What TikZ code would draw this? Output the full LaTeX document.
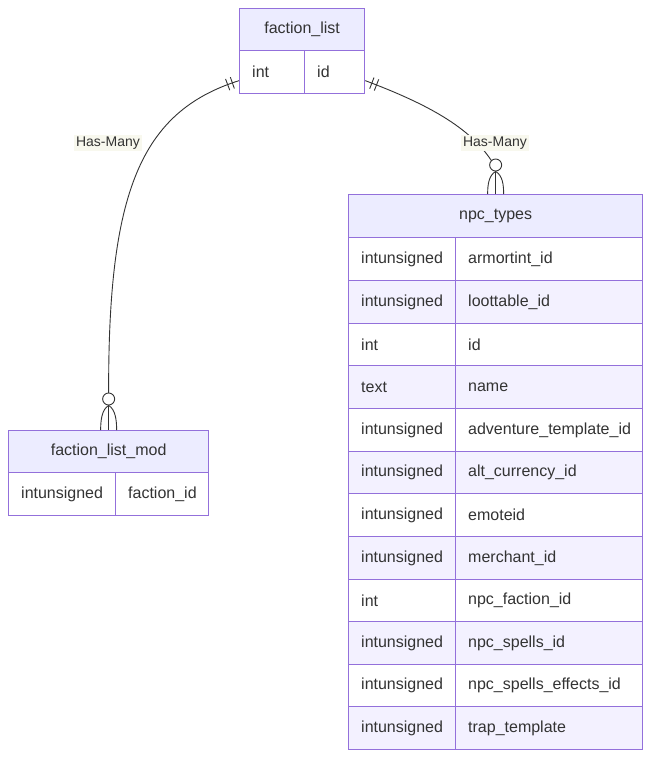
\documentclass[tikz,border=0pt]{standalone}
\usepackage{fontspec}
\setmainfont{Liberation Sans}
\usetikzlibrary{decorations.markings}
\definecolor{hdr}{RGB}{236,236,255}
\definecolor{oddrow}{RGB}{243,241,255}
\definecolor{bord}{RGB}{147,112,219}
\definecolor{txt}{RGB}{51,51,51}
\definecolor{lblbg}{RGB}{248,248,238}
\newcommand\erow[9]{%
  \node[cell, fill=#7, minimum width=#4pt, minimum height=#6pt] (#1t) at (#2,#3) {};
  \node[cell, fill=#7, minimum width=#5pt, minimum height=#6pt] (#1n) at (#2+#4,#3) {};
  \node[celltext] (#1tt) at ([xshift=13pt]#1t.west) {#8};
  \node[celltext] (#1nt) at ([xshift=13pt]#1n.west) {#9};
}
\begin{document}
\begin{tikzpicture}[x=1pt,y=-1pt,
  cell/.style={draw=bord, line width=1.3pt, inner sep=0, anchor=north west},
  hdrcell/.style={cell, fill=hdr, text=txt, font=\fontsize{16}{19}\selectfont},
  celltext/.style={anchor=west, inner sep=0, text=txt, font=\fontsize{16}{19}\selectfont},
  rel/.style={draw=txt, line width=0.9pt},
  lbl/.style={fill=lblbg, text=txt, inner sep=2pt, font=\fontsize{14}{16}\selectfont},
  bars/.style={postaction={decorate, decoration={markings,
      mark=at position 7pt with {\draw[rel] (0,-6pt) -- (0,6pt);},
      mark=at position 12pt with {\draw[rel] (0,-6pt) -- (0,6pt);}}}},
  zcirc/.style={circle, draw=txt, line width=0.9pt, fill=white, minimum size=12pt, inner sep=0}
]
\useasboundingbox (0,0) rectangle (651,758);
\fill[white] (0,0) rectangle (651,758);

% faction_list
\node[hdrcell, minimum width=125pt, minimum height=42pt] (flh) at (239,8) {faction\_list};
\erow{fl}{239}{50}{65}{60}{43}{white}{int}{id}

% faction_list_mod
\node[hdrcell, minimum width=200pt, minimum height=42pt] (fmh) at (8,430) {faction\_list\_mod};
\erow{fm}{8}{472}{107}{93}{43}{white}{intunsigned}{faction\_id}

% npc_types
\node[hdrcell, minimum width=294pt, minimum height=43pt] (nph) at (348,194) {npc\_types};
\foreach \c/\t/\n/\yy/\hh [count=\i] in {
  white/intunsigned/armortint\_id/237/43,
  oddrow/intunsigned/loottable\_id/280/43,
  white/int/id/323/42,
  oddrow/text/name/365/43,
  white/intunsigned/adventure\_template\_id/408/43,
  oddrow/intunsigned/alt\_currency\_id/451/42,
  white/intunsigned/emoteid/493/43,
  oddrow/intunsigned/merchant\_id/536/43,
  white/int/npc\_faction\_id/579/42,
  oddrow/intunsigned/npc\_spells\_id/621/43,
  white/intunsigned/npc\_spells\_effects\_id/664/42,
  oddrow/intunsigned/trap\_template/706/43}
{
  \erow{np\i-}{348}{\yy}{107}{187}{\hh}{\c}{\t}{\n}
}

% relationship: faction_list -> faction_list_mod
\coordinate (L0) at ([yshift=-8.5pt]flt.west);
\coordinate (L1) at ([yshift=37pt]fmh.north);
\coordinate (LC1) at (140,112);
\coordinate (LC2) at (108,193);
\draw[rel, bars] (L0) .. controls (LC1) and (LC2) .. (L1);

% relationship: faction_list -> npc_types
\coordinate (R0) at ([yshift=-8.5pt]fln.east);
\coordinate (RC1) at (430,105);
\coordinate (RC2) at (470,128);
\coordinate (R1) at ([xshift=-4pt,yshift=33pt]nph.north);
\draw[rel, bars] (R0) .. controls (RC1) and (RC2) .. (R1);

% labels
\node[lbl] (lab1) at (108,143) {Has-Many};
\node[lbl] (lab2) at (495,143) {Has-Many};

% zero-or-many ends
\node[zcirc] (c1) at ([yshift=31pt]fmh.north) {};
\draw[rel] (c1.south) -- (fmh.north);
\draw[rel] (c1.south) .. controls +(-7,4) and +(0,-9) .. ([xshift=-8pt]fmh.north);
\draw[rel] (c1.south) .. controls +(7,4) and +(0,-9) .. ([xshift=8pt]fmh.north);

\node[zcirc] (c2) at ([yshift=29pt]nph.north) {};
\draw[rel] (c2.south) -- (nph.north);
\draw[rel] (c2.south) .. controls +(-7,4) and +(0,-9) .. ([xshift=-8pt]nph.north);
\draw[rel] (c2.south) .. controls +(7,4) and +(0,-9) .. ([xshift=8pt]nph.north);
\end{tikzpicture}
\end{document}
